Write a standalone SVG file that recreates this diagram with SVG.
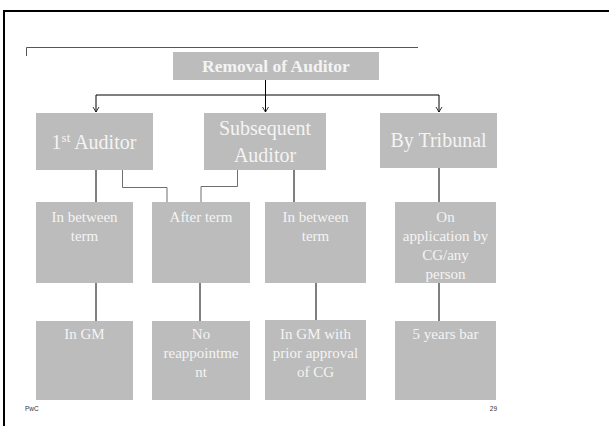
<svg xmlns="http://www.w3.org/2000/svg" width="609" height="426" viewBox="0 0 609 426">
<style>
.box{fill:#bcbcbc}
.t{font-family:"Liberation Serif","Times New Roman",serif;fill:#f4f4f4;text-anchor:middle}
.s15{font-size:15px}
.s20{font-size:20px}
.c{fill:none;stroke:#000;stroke-width:1}
.g{fill:none;stroke:#6e6e6e;stroke-width:1}
.f{font-family:"Liberation Sans",Arial,sans-serif;font-size:6.5px;fill:#333}
</style>
<defs>
<marker id="ar" markerWidth="8" markerHeight="8" refX="7" refY="4" orient="auto" markerUnits="userSpaceOnUse" viewBox="0 0 8 8">
<path d="M2,1 L7,4 L2,7" fill="none" stroke="#000" stroke-width="0.8"/>
</marker>
</defs>
<rect width="609" height="426" fill="#fff"/>
<rect x="4" y="11" width="640" height="440" fill="none" stroke="#000" stroke-width="2"/>
<path d="M26.5,56 V47.5 H418" fill="none" stroke="#555" stroke-width="1"/>

<g id="connectors">
<path class="c" d="M265.5,77 V95"/>
<path class="c" d="M96,95 H439"/>
<path class="c" d="M96,95 V112" marker-end="url(#ar)"/>
<path class="c" d="M265.5,95 V112" marker-end="url(#ar)"/>
<path class="c" d="M439,95 V112" marker-end="url(#ar)"/>
<path class="c" d="M96,170 V202"/>
<path class="g" d="M122.5,156 V187.5 H167 V211"/>
<path class="g" d="M237.5,170 V186.5 H201 V212"/>
<path class="c" d="M294,170 V209"/>
<path class="c" d="M439,168 V207" marker-end="url(#ar)"/>
<path class="c" d="M96,283 V321"/>
<path class="c" d="M200,283 V321"/>
<path class="c" d="M316,283 V320"/>
<path class="c" d="M439,283 V321"/>
</g>

<g id="removal">
<rect class="box" x="173" y="52" width="206" height="28"/>
<text class="t" x="276" y="72" style="font-size:17.5px;font-weight:bold">Removal of Auditor</text>
</g>

<g id="first-auditor">
<rect class="box" x="36" y="113" width="117" height="57"/>
<text class="t s20" x="94" y="149">1<tspan font-size="13" dy="-7">st</tspan><tspan dy="7"> Auditor</tspan></text>
</g>
<g id="subsequent-auditor">
<rect class="box" x="204" y="113" width="122" height="57"/>
<text class="t s20" x="265" y="135">Subsequent</text>
<text class="t s20" x="265" y="162">Auditor</text>
</g>
<g id="by-tribunal">
<rect class="box" x="380" y="113" width="117" height="55"/>
<text class="t s20" x="438.5" y="147">By Tribunal</text>
</g>

<g id="between-1">
<rect class="box" x="36" y="202" width="97" height="81"/>
<text class="t s15" x="84.5" y="222">In between</text>
<text class="t s15" x="84.5" y="241">term</text>
</g>
<g id="after-term">
<rect class="box" x="152" y="202" width="98" height="81"/>
<text class="t s15" x="201" y="222">After term</text>
</g>
<g id="between-2">
<rect class="box" x="265" y="202" width="101" height="81"/>
<text class="t s15" x="315.5" y="222">In between</text>
<text class="t s15" x="315.5" y="241">term</text>
</g>
<g id="on-application">
<rect class="box" x="395" y="202" width="101" height="81"/>
<text class="t s15" x="445.5" y="222">On</text>
<text class="t s15" x="445.5" y="241">application by</text>
<text class="t s15" x="445.5" y="260">CG/any</text>
<text class="t s15" x="445.5" y="279">person</text>
</g>

<g id="in-gm">
<rect class="box" x="36" y="321" width="97" height="79"/>
<text class="t s15" x="84.5" y="339">In GM</text>
</g>
<g id="no-reappointment">
<rect class="box" x="152" y="321" width="98" height="79"/>
<text class="t s15" x="201" y="339">No</text>
<text class="t s15" x="201" y="358">reappointme</text>
<text class="t s15" x="201" y="377">nt</text>
</g>
<g id="in-gm-cg">
<rect class="box" x="265" y="320" width="101" height="80"/>
<text class="t s15" x="315.5" y="339">In GM with</text>
<text class="t s15" x="315.5" y="358">prior approval</text>
<text class="t s15" x="315.5" y="377">of CG</text>
</g>
<g id="five-years">
<rect class="box" x="395" y="321" width="101" height="79"/>
<text class="t s15" x="445.5" y="339">5 years bar</text>
</g>

<text class="f" x="25" y="411">PwC</text>
<text class="f" x="497" y="411" text-anchor="end">29</text>
</svg>
